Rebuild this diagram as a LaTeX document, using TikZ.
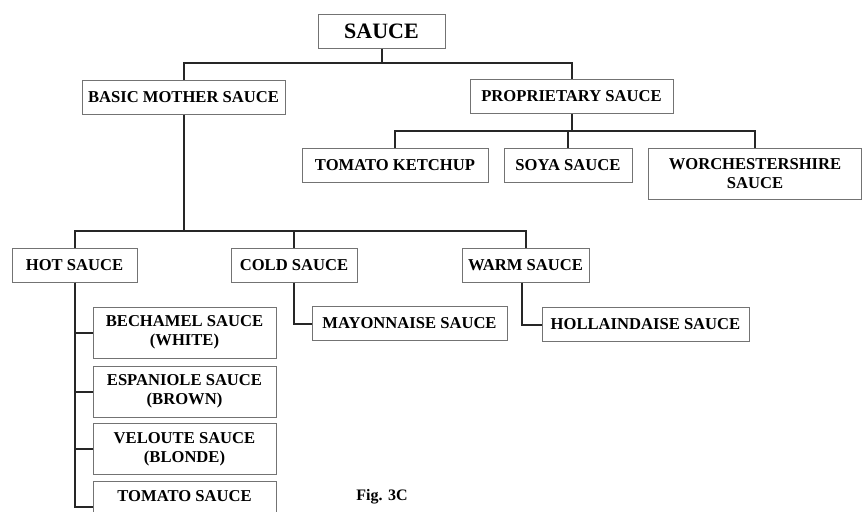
\documentclass[tikz,border=0pt]{standalone}
\usepackage{fontspec}
\setmainfont{Liberation Serif}
\begin{document}
\begin{tikzpicture}[x=0.5pt, y=-0.5pt,
        box/.style={draw=black!55, line width=0.5pt, fill=white, inner sep=1pt,
            minimum height=17pt, align=center,
            font=\bfseries\fontsize{8.3}{9.5}\selectfont},
        tallbox/.style={box, minimum height=25.5pt},
        link/.style={line width=1pt, black!85}]
        \clip (0,0) rectangle (862,511);

        \node [box, minimum width=63.5pt, font=\bfseries\fontsize{11}{12}\selectfont] (sauce) at (381.5,31) {SAUCE};
        \node [box, minimum width=101.5pt] (basic) at (183.5,97) {BASIC MOTHER SAUCE};
        \node [box, minimum width=101.5pt] (proprietary) at (571.5,96.5) {PROPRIETARY SAUCE};

        \node [box, minimum width=93pt] (ketchup) at (395,165) {TOMATO KETCHUP};
        \node [box, minimum width=64pt] (soya) at (568,165) {SOYA SAUCE};
        \node [tallbox, minimum width=106.5pt] (worchester) at (755,173.5) {WORCHESTERSHIRE\\SAUCE};

        \node [box, minimum width=62.5pt] (hot) at (74.5,265) {HOT SAUCE};
        \node [box, minimum width=63pt] (cold) at (294,265) {COLD SAUCE};
        \node [box, minimum width=63.5pt] (warm) at (525.5,265) {WARM SAUCE};

        \node [box, minimum width=97.5pt] (mayonnaise) at (409.5,323.5) {MAYONNAISE SAUCE};
        \node [box, minimum width=103.5pt] (hollandaise) at (645.5,324.5) {HOLLAINDAISE SAUCE};

        \node [tallbox, minimum width=91.5pt] (bechamel) at (184.5,332.5) {BECHAMEL SAUCE\\(WHITE)};
        \node [tallbox, minimum width=91.5pt] (espagnole) at (184.5,391.5) {ESPANIOLE SAUCE\\(BROWN)};
        \node [tallbox, minimum width=91.5pt] (veloute) at (184.5,449) {VELOUTE SAUCE\\(BLONDE)};
        \node [tallbox, minimum width=91.5pt] (tomato) at (184.5,507) {TOMATO SAUCE\\\phantom{(X)}};

        \node [font=\bfseries\fontsize{8}{9}\selectfont] (fig) at (382,497) {Fig. 3C};

        \draw [link] (sauce.south) -- (sauce.south |- 0,63) -| (basic.north);
        \draw [link] (sauce.south |- 0,63) -| (proprietary.north);

        \draw [link] (proprietary.south) -- (proprietary.south |- 0,131) -| (ketchup.north);
        \draw [link] (proprietary.south |- 0,131) -| (soya.north);
        \draw [link] (proprietary.south |- 0,131) -| (worchester.north);

        \draw [link] (basic.south) -- (basic.south |- 0,231) -| (hot.north);
        \draw [link] (basic.south |- 0,231) -| (cold.north);
        \draw [link] (basic.south |- 0,231) -| (warm.north);

        \draw [link] (cold.south) |- (mayonnaise.west);
        \draw [link] ([xshift=-1.75pt]warm.south) |- (hollandaise.west);

        \draw [link] (hot.south) |- (bechamel.west);
        \draw [link] (hot.south) |- (espagnole.west);
        \draw [link] (hot.south) |- (veloute.west);
        \draw [link] (hot.south) |- (tomato.west);
    \end{tikzpicture}
\end{document}
